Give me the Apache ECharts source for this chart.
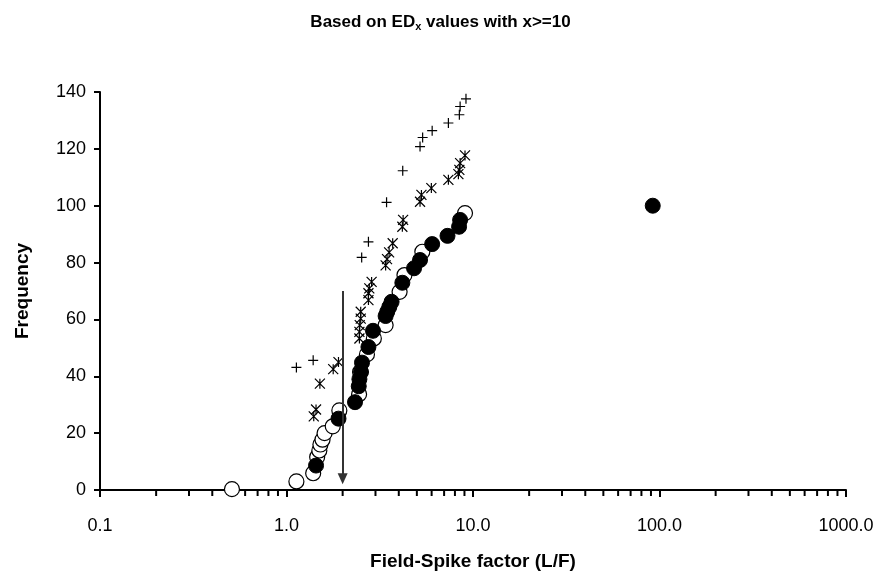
<!DOCTYPE html>
<html><head><meta charset="utf-8">
<script src="https://cdn.jsdelivr.net/npm/echarts@6/dist/echarts.min.js"></script>
<style>html,body{margin:0;padding:0;background:#fff}#c{width:881px;height:583px}</style>
</head><body><div id="c"></div>
<script>
// Field-Spike factor (L/F) vs Frequency
const openCircles = [[0.51,0.3],[1.13,3.0],[1.39,5.9],[1.46,11.6],[1.50,13.9],[1.52,16.0],[1.56,17.7],[1.60,20.0],[1.77,22.4],[1.92,28.0],[2.45,33.7],[2.48,41.5],[2.7,47.7],[2.94,53.3],[3.40,58.0],[4.04,69.7],[4.29,75.6],[5.35,83.8],[9.06,97.4]];
const filledCircles = [[1.44,8.6],[1.90,25.1],[2.33,30.9],[2.44,36.5],[2.46,39.0],[2.51,41.5],[2.54,44.8],[2.75,50.3],[2.91,56.0],[3.40,61.2],[3.47,62.7],[3.56,64.4],[3.66,66.2],[4.18,72.9],[4.83,78.0],[5.20,80.9],[6.04,86.5],[7.30,89.4],[8.42,92.6],[8.53,95.0],[92,100]];
const plusPoints = [[1.13,43.1],[1.39,45.6],[2.53,81.8],[2.75,87.3],[3.44,101.2],[4.20,112.3],[5.20,120.8],[5.37,124.0],[6.04,126.4],[7.38,129.1],[8.45,132.0],[8.53,134.9],[9.17,137.6]];
const starPoints = [[1.40,25.9],[1.44,28.3],[1.51,37.4],[1.78,42.5],[1.90,45.0],[2.46,53.3],[2.46,55.6],[2.47,58.0],[2.50,60.3],[2.50,62.7],[2.75,66.8],[2.75,69.2],[2.78,70.9],[2.86,73.2],[3.40,79.0],[3.46,81.2],[3.55,83.6],[3.71,86.8],[4.18,92.6],[4.22,95.0],[5.20,101.4],[5.29,103.8],[5.98,106.2],[7.38,109.1],[8.35,111.1],[8.45,112.6],[8.53,115.0],[9.06,117.7]];
const arrowX = [2, 2];
const arrowY = [70, 4];
const minorTickValues = [0.2,0.3,0.4,0.5,0.6,0.7,0.8,0.9,2,3,4,5,6,7,8,9,20,30,40,50,60,70,80,90,200,300,400,500,600,700,800,900];
const xMin = 0.1, xMax = 1000, yMin = 0, yMax = 140, yInterval = 20;

const FONT = 'Liberation Sans, Arial, sans-serif';
const chart = echarts.init(document.getElementById('c'));
const plusPath = 'path://M0,5L10,5M5,0L5,10';
const starPath = 'path://M0,0L10,10M10,0L0,10M5,0L5,10';

chart.setOption({
  animation: false,
  backgroundColor: '#fff',
  title: {
    text: '{b|Based on ED}{s|x}{b| values with x>=10}',
    left: 'center', top: 8,
    textStyle: { rich: {
      b: { fontFamily: FONT, fontWeight: 'bold', fontSize: 17, color: '#000' },
      s: { fontFamily: FONT, fontWeight: 'bold', fontSize: 11, color: '#000', verticalAlign: 'bottom', padding: [8,0,0,0] }
    } }
  },
  grid: { left: 100, right: 35, top: 92, bottom: 93, containLabel: false },
  xAxis: {
    type: 'log', logBase: 10, min: xMin, max: xMax,
    name: 'Field-Spike factor (L/F)', nameLocation: 'middle', nameGap: 62,
    nameTextStyle: { fontFamily: FONT, fontWeight: 'bold', fontSize: 19, color: '#000' },
    axisLine: { onZero: false, lineStyle: { color: '#000', width: 2 } },
    axisTick: { inside: false, length: 7, lineStyle: { color: '#000', width: 2 } },
    axisLabel: { margin: 27, fontFamily: FONT, fontSize: 18, color: '#000',
      formatter: v => { const n = Number(v.toPrecision(3)); return n < 1 ? String(n) : n.toFixed(1); } },
    splitLine: { show: false }, minorTick: { show: false }
  },
  yAxis: {
    type: 'value', min: yMin, max: yMax, interval: yInterval,
    name: 'Frequency', nameLocation: 'middle', nameGap: 68, nameRotate: 90,
    nameTextStyle: { fontFamily: FONT, fontWeight: 'bold', fontSize: 19, color: '#000' },
    axisLine: { show: true, lineStyle: { color: '#000', width: 2 } },
    axisTick: { show: true, inside: false, length: 6, lineStyle: { color: '#000', width: 2 } },
    axisLabel: { margin: 14, fontFamily: FONT, fontSize: 18, color: '#000' },
    splitLine: { show: false }
  },
  series: [
    {
      type: 'custom', silent: true, clip: false, z: 1,
      data: minorTickValues.map(v => [v, 0]),
      renderItem: (params, api) => {
        const p = api.coord([api.value(0), 0]);
        return { type: 'line', shape: { x1: p[0], y1: p[1], x2: p[0], y2: p[1] + 6 },
          style: { stroke: '#000', lineWidth: 2 } };
      }
    },
    {
      name: 'plus', type: 'scatter', data: plusPoints, symbol: plusPath, symbolSize: 10,
      itemStyle: { color: 'none', borderColor: '#000', borderWidth: 1.2, opacity: 1 }, z: 3
    },
    {
      name: 'star', type: 'scatter', data: starPoints, symbol: starPath, symbolSize: 10,
      itemStyle: { color: 'none', borderColor: '#000', borderWidth: 1.2, opacity: 1 }, z: 3
    },
    {
      name: 'open', type: 'scatter', data: openCircles, symbol: 'circle', symbolSize: 15,
      itemStyle: { color: '#fff', borderColor: '#000', borderWidth: 1.2, opacity: 1 }, z: 4
    },
    {
      name: 'filled', type: 'scatter', data: filledCircles, symbol: 'circle', symbolSize: 15,
      itemStyle: { color: '#000', borderColor: '#000', borderWidth: 1, opacity: 1 }, z: 5,
      markLine: {
        silent: true, animation: false, z: 6,
        lineStyle: { color: '#333', width: 2, type: 'solid' },
        label: { show: false },
        symbolSize: [10, 11],
        data: [[
          { coord: [arrowX[0], arrowY[0]], symbol: 'none' },
          { coord: [arrowX[1], arrowY[1]], symbol: 'triangle', symbolRotate: 180 }
        ]]
      }
    }
  ]
});
</script></body></html>
